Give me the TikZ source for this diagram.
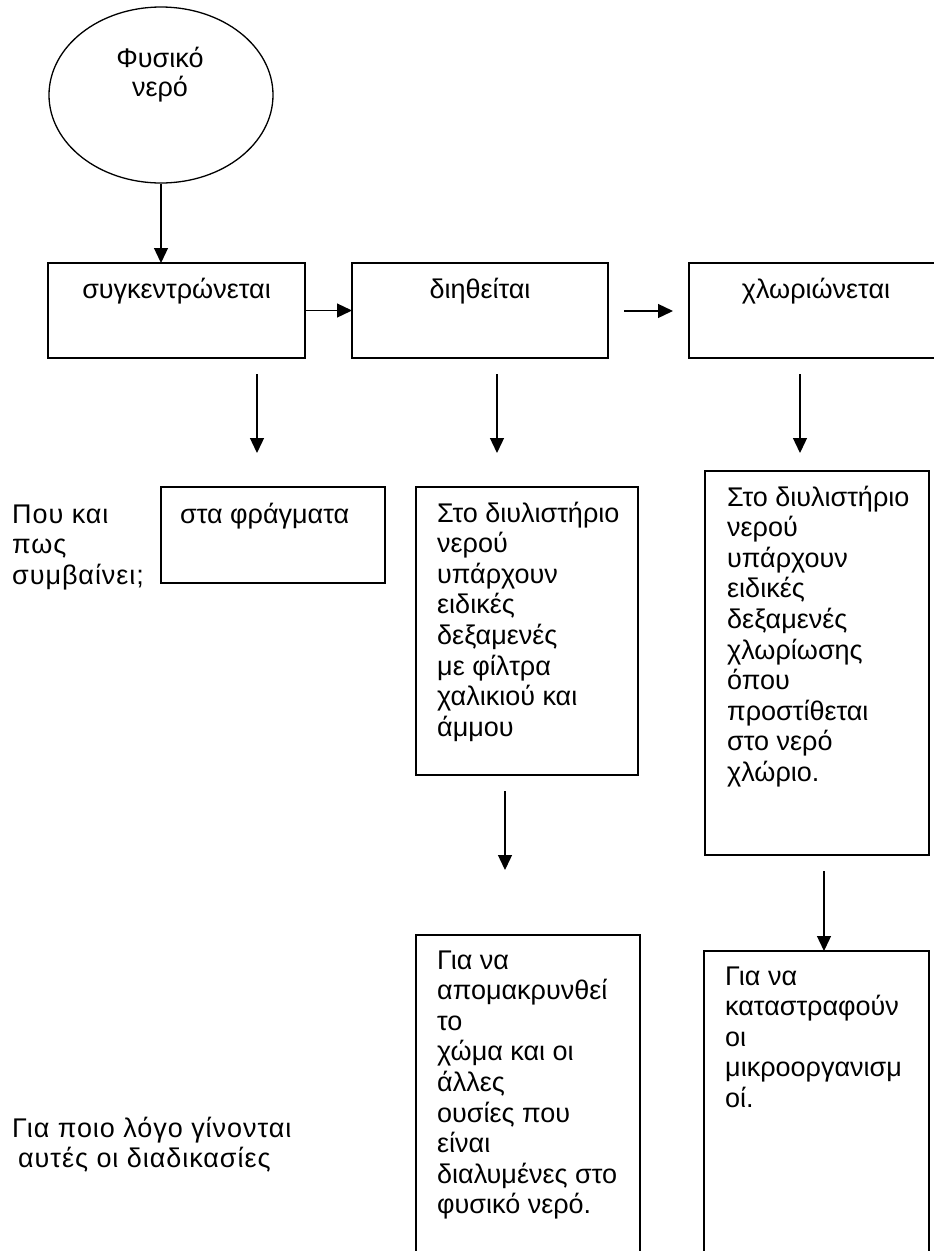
\documentclass[tikz,border=0pt]{standalone}
\usepackage{fontspec}
\setmainfont{Liberation Sans}
\newfontfamily\spaced[LetterSpace=3.5]{Liberation Sans}
\usetikzlibrary{arrows.meta,shapes.geometric}
% left-aligned stack of lines whose baseline is the first line's baseline
\newcommand\lstack[1]{\begin{tabular}[t]{@{}l@{}}#1\end{tabular}}
\newcommand\cstack[1]{\begin{tabular}[t]{@{}c@{}}#1\end{tabular}}

\begin{document}
\begin{tikzpicture}[x=1pt,y=-1pt,
  frame/.style={draw, line width=1.8pt, anchor=north west, inner sep=0pt, outer sep=0pt},
  txt/.style={anchor=base west, inner sep=0pt, font=\fontsize{27}{30.6}\selectfont},
  side/.style={txt, font=\spaced\fontsize{27}{30.6}\selectfont},
  ctxt/.style={anchor=base, inner sep=0pt, font=\fontsize{27}{29}\selectfont},
  arr/.style={line width=1.3pt, -{Triangle[length=15pt,width=14pt]}}]

\useasboundingbox (0,0) rectangle (934,1251);
\clip (0,0) rectangle (934,1251);

% start: natural water
\node[draw, ellipse, line width=1.3pt, minimum width=224pt, minimum height=176pt, inner sep=0pt] (src) at (161,95) {};
\node[ctxt] (srctext) at (160,67) {\cstack{Φυσικό\\νερό}};

% first row: the three treatment steps
\node[frame, minimum width=257pt, minimum height=95pt] (collect) at (48,263) {};
\node[frame, minimum width=256pt, minimum height=95pt] (filter) at (352,263) {};
\node[frame, minimum width=254pt, minimum height=95pt] (chlor) at (689,263) {};
\node[ctxt] (collecttext) at (176.5,298) {συγκεντρώνεται};
\node[ctxt] (filtertext) at (480,298) {διηθείται};
\node[ctxt] (chlortext) at (816,298) {χλωριώνεται};

% second row: where and how
\node[side] (qwhere) at (12,523) {\lstack{Που και\\πως\\συμβαίνει;}};
\node[frame, minimum width=224pt, minimum height=96pt] (dams) at (161,487) {};
\node[txt] (damstext) at (180,523) {στα φράγματα};
\node[frame, minimum width=222pt, minimum height=288pt] (tanks) at (416,487) {};
\node[txt] (tankstext) at (437,522) {\lstack{Στο διυλιστήριο\\νερού\\υπάρχουν\\ειδικές\\δεξαμενές\\με φίλτρα\\χαλικιού και\\άμμου}};
\node[frame, minimum width=224pt, minimum height=384pt] (chltanks) at (705,471) {};
\node[txt] (chltankstext) at (727,506) {\lstack{Στο διυλιστήριο\\νερού\\υπάρχουν\\ειδικές\\δεξαμενές\\χλωρίωσης\\όπου\\προστίθεται\\στο νερό\\χλώριο.}};

% third row: why
\node[side] (qwhy) at (12,1137) {\lstack{Για ποιο λόγο γίνονται\\\hspace*{6pt}αυτές οι διαδικασίες}};
\node[frame, minimum width=224pt, minimum height=340pt] (remove) at (416,935) {};
\node[txt] (removetext) at (437,969) {\lstack{Για να\\απομακρυνθεί\\το\\χώμα και οι\\άλλες\\ουσίες που\\είναι\\διαλυμένες στο\\φυσικό νερό.}};
\node[frame, minimum width=225pt, minimum height=320pt] (kill) at (704,951) {};
\node[txt] (killtext) at (725,985) {\lstack{Για να\\καταστραφούν\\οι\\μικροοργανισμ\\οί.}};

% free ends of the arrows
\coordinate (h2a) at (624,311);  \coordinate (h2b) at (673,311);
\coordinate (v1a) at (257,374);  \coordinate (v1b) at (257,453);
\coordinate (v2a) at (497,374);  \coordinate (v2b) at (497,453);
\coordinate (v3a) at (800,374);  \coordinate (v3b) at (800,453);
\coordinate (v4a) at (505,791);  \coordinate (v4b) at (505,870);
\coordinate (v5a) at (824,871);  \coordinate (v5b) at (824,951);

% connectors
\draw[arr] (src.south) -- (src.south |- collect.north);
\draw[arr] (collect.east) -- (filter.west);
\draw[arr] (h2a) -- (h2b);
\draw[arr] (v1a) -- (v1b);
\draw[arr] (v2a) -- (v2b);
\draw[arr] (v3a) -- (v3b);
\draw[arr] (v4a) -- (v4b);
\draw[arr] (v5a) -- (v5b);
\end{tikzpicture}
\end{document}
